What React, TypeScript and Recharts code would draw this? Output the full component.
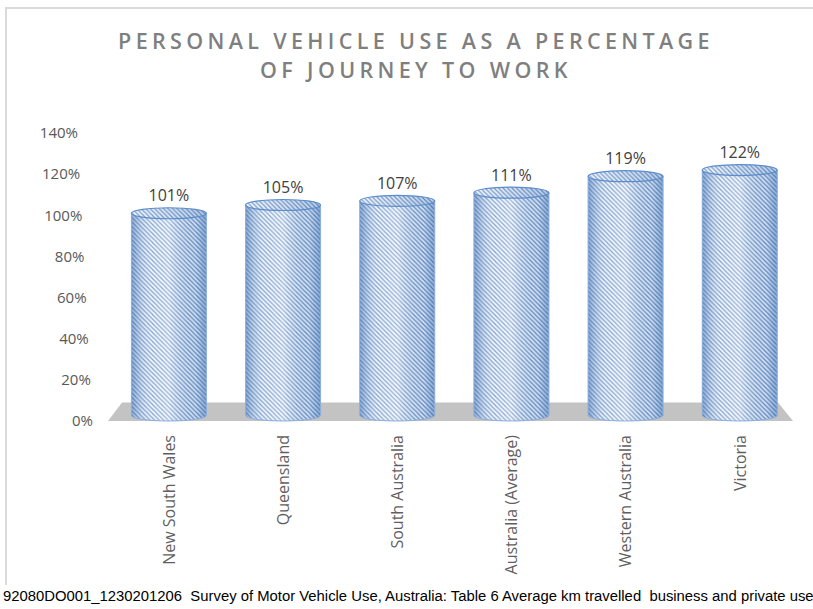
import React from 'react';
import { BarChart, Bar, XAxis, YAxis, LabelList, ReferenceArea } from 'recharts';

const regions = [
  'New South Wales',
  'Queensland',
  'South Australia',
  'Australia (Average)',
  'Western Australia',
  'Victoria',
];
const usePct = [101, 105, 107, 111, 119, 122];
const yTicks = [0, 20, 40, 60, 80, 100, 120, 140];

const data = regions.map((name, i) => ({ name, value: usePct[i] }));

const font = '"Open Sans", "Noto Sans", sans-serif';

const Cylinder = (props: any) => {
  const { x, y, width, height } = props;
  const rx = width / 2;
  const ry = 5.5;
  const cx = x + rx;
  const b = y + height - ry;
  const body = `M${x},${y} L${x},${b} A${rx},${ry} 0 0 0 ${x + width},${b} L${x + width},${y} Z`;
  return (
    <g>
      <path d={body} fill="url(#hatch)" />
      <path d={body} fill="url(#shade)" stroke="#8eaedb" strokeWidth={1} />
      <ellipse cx={cx} cy={y} rx={rx} ry={ry} fill="url(#hatch)" />
      <ellipse cx={cx} cy={y} rx={rx} ry={ry} fill="url(#topShade)" stroke="#5b8ccc" strokeWidth={1.2} />
    </g>
  );
};

const Floor = (props: any) => {
  const { x, y, width, height } = props;
  const pts = [
    [x - 4, y + height],
    [x + width - 4, y + height],
    [x + width - 19, y],
    [x + 10, y],
  ]
    .map((p) => p.join(','))
    .join(' ');
  return <polygon points={pts} fill="#c3c3c3" />;
};

const YTick = (props: any) => {
  const { x, y, payload } = props;
  const shift = 11 + (payload.value / 140) * 15;
  return (
    <text x={x - shift} y={y} dy="0.35em" textAnchor="end" fill="#595959" fontSize={15} fontFamily={font}>
      {payload.value}%
    </text>
  );
};

const XTick = (props: any) => {
  const { x, payload } = props;
  return (
    <text
      transform={`translate(${x},435) rotate(-90)`}
      dy="0.35em"
      textAnchor="end"
      fill="#5f5f5f"
      fontSize={16}
      fontFamily={font}
    >
      {payload.value}
    </text>
  );
};

const TopLabel = (props: any) => {
  const { x, y, width, value } = props;
  return (
    <text x={x + width / 2} y={y - 12} textAnchor="middle" fill="#404040" fontSize={16} fontFamily={font}>
      {value}%
    </text>
  );
};

export default function App() {
  return (
    <div style={{ position: 'absolute', left: 0, top: 0, width: 813, height: 609, background: '#fff', overflow: 'hidden' }}>
      <div
        style={{
          position: 'absolute',
          left: 5,
          top: 7,
          width: 820,
          height: 576,
          borderTop: '2px solid #dadada',
          borderLeft: '2px solid #dadada',
        }}
      />
      <div
        style={{
          position: 'absolute',
          left: 0,
          top: 26,
          width: 832,
          textAlign: 'center',
          fontFamily: font,
          fontSize: 21.5,
          fontWeight: 600,
          letterSpacing: 4.35,
          lineHeight: '29px',
          color: '#7f7f7f',
        }}
      >
        PERSONAL VEHICLE USE AS A PERCENTAGE
        <br />
        OF JOURNEY TO WORK
      </div>
      <BarChart
        width={813}
        height={609}
        data={data}
        margin={{ top: 133, right: 16, left: 52, bottom: 0 }}
        barCategoryGap="17%"
        style={{ position: 'absolute', left: 0, top: 0 }}
      >
        <defs>
          <pattern id="hatch" patternUnits="userSpaceOnUse" width={4.5} height={4.5}>
            <rect width={4.5} height={4.5} fill="#eef3fa" />
            <path d="M-1,-1 L5.5,5.5 M-1,3.5 L1,5.5 M3.5,-1 L5.5,1" stroke="#5d88c2" strokeWidth={1.2} />
          </pattern>
          <linearGradient id="shade" x1="0" y1="0" x2="1" y2="0">
            <stop offset="0%" stopColor="#3d6fb0" stopOpacity={0.55} />
            <stop offset="25%" stopColor="#ffffff" stopOpacity={0.2} />
            <stop offset="50%" stopColor="#ffffff" stopOpacity={0.35} />
            <stop offset="85%" stopColor="#3d6fb0" stopOpacity={0.15} />
            <stop offset="100%" stopColor="#3d6fb0" stopOpacity={0.55} />
          </linearGradient>
          <linearGradient id="topShade" x1="0" y1="0" x2="1" y2="0">
            <stop offset="0%" stopColor="#ffffff" stopOpacity={0.2} />
            <stop offset="100%" stopColor="#3d6fb0" stopOpacity={0.3} />
          </linearGradient>
        </defs>
        <XAxis
          dataKey="name"
          axisLine={false}
          tickLine={false}
          interval={0}
          height={188}
          tick={<XTick />}
        />
        <YAxis
          domain={[0, 140]}
          ticks={yTicks}
          axisLine={false}
          tickLine={false}
          width={60}
          tick={<YTick />}
        />
        <ReferenceArea y1={0} y2={9} shape={<Floor />} />
        <Bar dataKey="value" shape={<Cylinder />} isAnimationActive={false}>
          <LabelList dataKey="value" content={<TopLabel />} />
        </Bar>
      </BarChart>
      <div
        style={{
          position: 'absolute',
          left: 3,
          top: 588,
          fontFamily: '"Liberation Sans", Arial, sans-serif',
          fontSize: 14.85,
          color: '#000',
          whiteSpace: 'pre',
        }}
      >
        92080DO001_1230201206  Survey of Motor Vehicle Use, Australia: Table 6 Average km travelled  business and private use
      </div>
    </div>
  );
}
